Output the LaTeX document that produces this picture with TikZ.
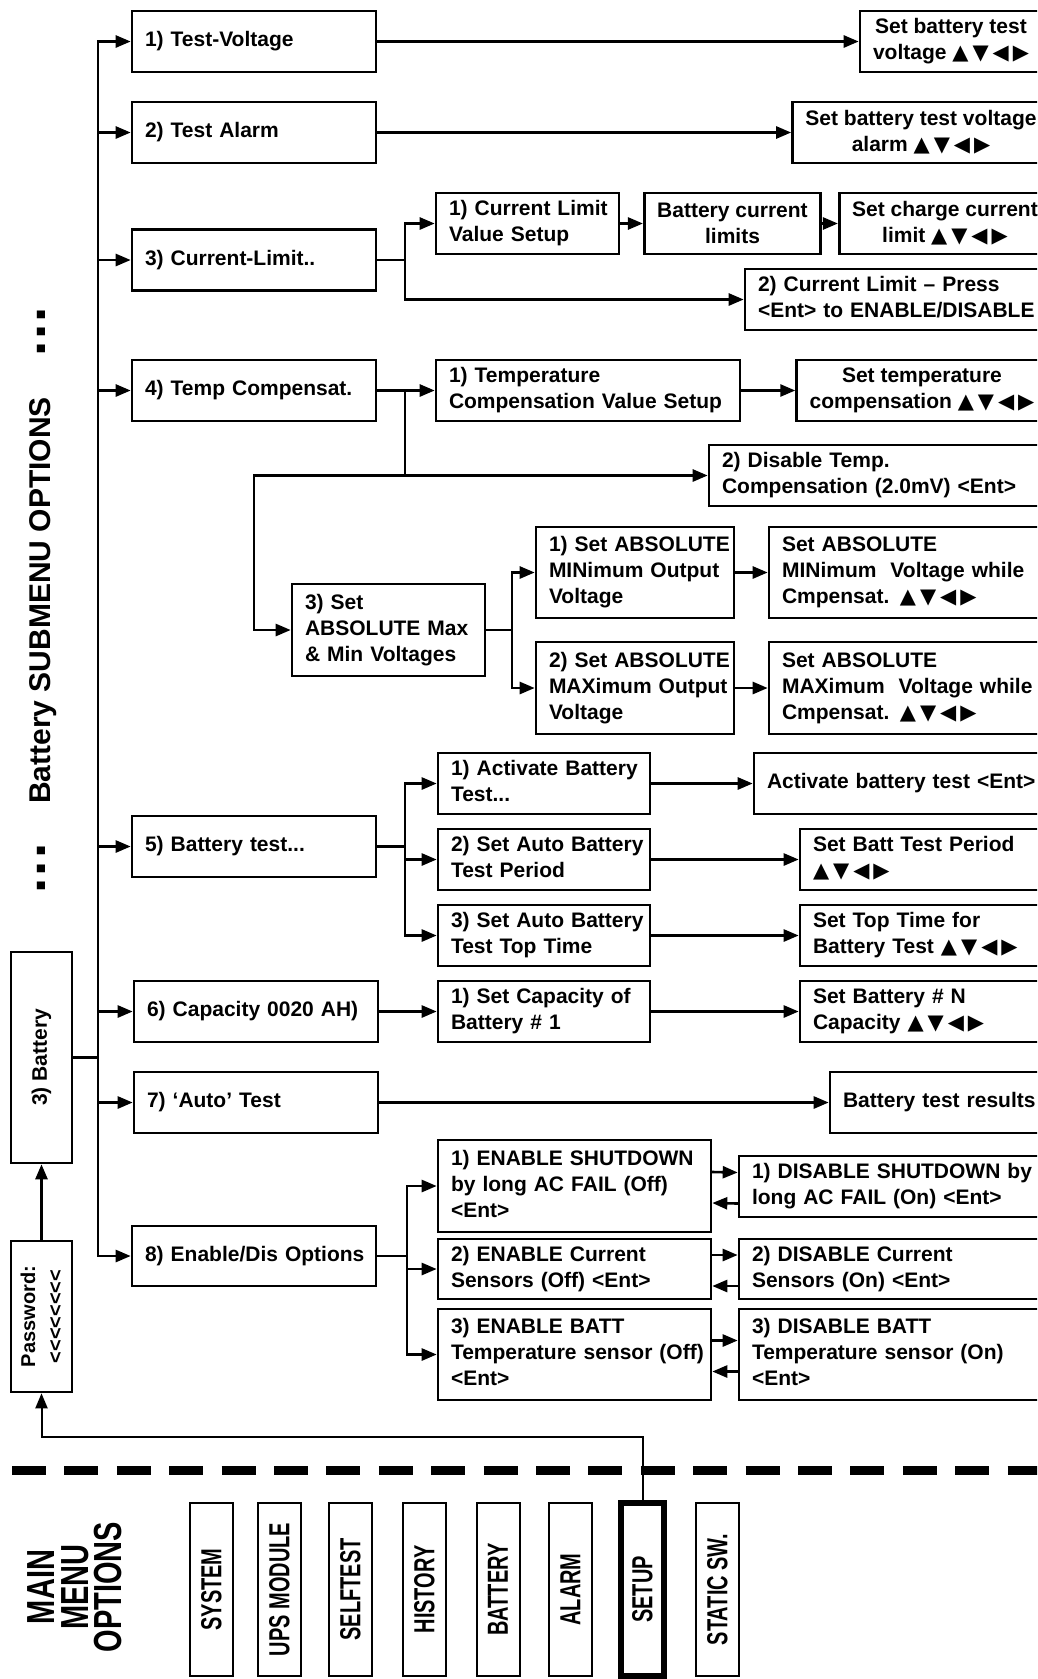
\documentclass[tikz,border=0pt]{standalone}
\usepackage{fontspec}
\setmainfont{Liberation Sans}
\newfontfamily\symfont{DejaVu Sans}
\usetikzlibrary{arrows.meta,positioning}
\newcommand{\mlines}[1]{\noindent\begin{tabular}{@{}l@{}}#1\end{tabular}}
\newcommand{\navkeys}{{\symfont ▲\kern4pt▼\kern4pt◀\kern4pt▶}}

\begin{document}
\begin{tikzpicture}[x=1pt, y=-1pt,
  box/.style={draw, line width=2.6pt, inner xsep=13pt, inner ysep=0pt, minimum height=61pt, font=\fontsize{21}{26}\selectfont\bfseries},
  lbox/.style={box, align=left, text width=#1},
  cbox/.style={box, align=center, minimum width=#1},
  upbox/.style={box, rotate=90, align=center},
  mainitem/.style={draw, line width=2pt, rotate=90, minimum width=173pt, minimum height=43pt, inner sep=0pt, font=\fontsize{20}{24}\selectfont\bfseries},
  vtext/.style={rotate=90, inner sep=0pt},
  link/.style={line width=2.6pt, line cap=rect},
  arr/.style={link, -{Triangle[length=15pt, width=12pt]}}
]
  \useasboundingbox (0,0) rectangle (1037,1679);
  \clip (0,0) rectangle (1037,1679);

  % submenu column
  \node[lbox=218pt] (tvolt)    at (254,41.5)   {\mlines{1) Test-Voltage}};
  \node[lbox=218pt] (talarm)   at (254,132.5)  {\mlines{2) Test Alarm}};
  \node[lbox=218pt] (climit)   at (254,260)    {\mlines{3) Current-Limit..}};
  \node[lbox=218pt] (tcomp)    at (254,390.5)  {\mlines{4) Temp Compensat.}};
  \node[lbox=218pt] (btest)    at (254,846.5)  {\mlines{5) Battery test...}};
  \node[lbox=218pt] (capac)    at (256,1011.5) {\mlines{6) Capacity 0020 AH)}};
  \node[lbox=218pt] (autotest) at (256,1102.5) {\mlines{7) ‘Auto’ Test}};
  \node[lbox=218pt, minimum height=60pt] (enopts) at (254,1256) {\mlines{8) Enable/Dis Options}};

  % settings
  \node[cbox=182pt] (tvoltset)  at (951,41.5)  {Set battery test\\voltage \navkeys};
  \node[cbox=242pt] (talarmset) at (921,132.5) {Set battery test voltage\\alarm \navkeys};
  \node[lbox=157pt] (clvalue)   at (527.5,223.5) {\mlines{1) Current Limit\\Value Setup}};
  \node[cbox=167pt] (clbatt)    at (732.5,223.5) {Battery current\\limits};
  \node[cbox=200pt] (clset)     at (945,223.5)   {Set charge current\\limit \navkeys};
  \node[lbox=284pt] (clpress)   at (900,299.5)   {\mlines{2) Current Limit – Press\\<Ent> to ENABLE/DISABLE}};
  \node[lbox=278pt] (tcvalue)   at (588,390.5)   {\mlines{1) Temperature\\Compensation Value Setup}};
  \node[cbox=244pt] (tcset)     at (922,390.5)   {Set temperature\\compensation \navkeys};
  \node[lbox=320pt] (tcdis)     at (882,475.5)   {\mlines{2) Disable Temp.\\Compensation (2.0mV) <Ent>}};
  \node[lbox=167pt, minimum height=92pt] (absmm)  at (388.5,630) {\mlines{3) Set\\ABSOLUTE Max\\\& Min Voltages}};
  \node[lbox=172pt, minimum height=91pt] (absmin) at (635,572.5) {\mlines{1) Set ABSOLUTE\\MINimum Output\\Voltage}};
  \node[lbox=172pt, minimum height=92pt] (absmax) at (635,688)   {\mlines{2) Set ABSOLUTE\\MAXimum Output\\Voltage}};
  \node[lbox=260pt, minimum height=91pt] (absminset) at (912,572.5) {\mlines{Set ABSOLUTE\\MINimum\ \ Voltage while\\Cmpensat. \navkeys}};
  \node[lbox=260pt, minimum height=92pt] (absmaxset) at (912,688)   {\mlines{Set ABSOLUTE\\MAXimum\ \ Voltage while\\Cmpensat. \navkeys}};
  \node[lbox=186pt] (actbt)      at (544,783.5)   {\mlines{1) Activate Battery\\Test...}};
  \node[lbox=275pt] (actbtset)   at (904.5,783.5) {\mlines{Activate battery test <Ent>}};
  \node[lbox=186pt] (autoper)    at (544,859.5)   {\mlines{2) Set Auto Battery\\Test Period}};
  \node[lbox=229pt] (autoperset) at (927.5,859.5) {\mlines{Set Batt Test Period\\\navkeys}};
  \node[lbox=186pt] (autotop)    at (544,935.5)   {\mlines{3) Set Auto Battery\\Test Top Time}};
  \node[lbox=229pt] (autotopset) at (927.5,935.5) {\mlines{Set Top Time for\\Battery Test \navkeys}};
  \node[lbox=186pt] (capset)     at (544,1011.5)   {\mlines{1) Set Capacity of\\Battery \# 1}};
  \node[lbox=229pt] (capsetn)    at (927.5,1011.5) {\mlines{Set Battery \# N\\Capacity \navkeys}};
  \node[lbox=199pt] (results)    at (942.5,1102.5) {\mlines{Battery test results}};
  \node[lbox=247pt, minimum height=92pt] (enshut)  at (574.5,1186) {\mlines{1) ENABLE SHUTDOWN\\by long AC FAIL (Off)\\<Ent>}};
  \node[lbox=290pt] (disshut)    at (897,1186.5)  {\mlines{1) DISABLE SHUTDOWN by\\long AC FAIL (On) <Ent>}};
  \node[lbox=247pt, minimum height=60pt] (encur)   at (574.5,1269)  {\mlines{2) ENABLE Current\\Sensors (Off) <Ent>}};
  \node[lbox=290pt, minimum height=60pt] (discur)  at (897,1269)    {\mlines{2) DISABLE Current\\Sensors (On) <Ent>}};
  \node[lbox=247pt, minimum height=91pt] (enbatt)  at (574.5,1354.5) {\mlines{3) ENABLE BATT\\Temperature sensor (Off)\\<Ent>}};
  \node[lbox=290pt, minimum height=91pt] (disbatt) at (897,1354.5)   {\mlines{3) DISABLE BATT\\Temperature sensor (On)\\<Ent>}};

  % left side
  \node[upbox, minimum width=211pt] (battery) at (41.5,1057.5) {3) Battery};
  \node[upbox, minimum width=151pt, font=\fontsize{20}{27}\selectfont\bfseries] (password) at (41.5,1316.5)
    {Password:\\<\kern0pt<\kern0pt<\kern0pt<\kern0pt<\kern0pt<\kern0pt<\kern0pt<};
  \node[vtext, anchor=base, font=\fontsize{30}{30}\selectfont\bfseries] (subtitle) at (50,600.5) {Battery SUBMENU OPTIONS};
  \node[vtext, anchor=base, font=\fontsize{55}{55}\selectfont\bfseries] (dotsup)   at (45.6,332)   {.\kern2pt.\kern2pt.};
  \node[vtext, anchor=base, font=\fontsize{55}{55}\selectfont\bfseries] (dotsdown) at (45.6,868.5) {.\kern2pt.\kern2pt.};

  % main menu
  \node[vtext, yscale=1.35, align=center, font=\fontsize{29}{24.8}\selectfont\bfseries] (mainmenu) at (75,1587) {MAIN\\MENU\\OPTIONS};
  \node[mainitem] (msystem) at (211.5,1589.5) {\scalebox{1}[1.45]{SYSTEM}};
  \node[mainitem] (mups)    at (279.5,1589.5) {\scalebox{1}[1.45]{UPS MODULE}};
  \node[mainitem] (mself)   at (350.5,1589.5) {\scalebox{1}[1.45]{SELFTEST}};
  \node[mainitem] (mhist)   at (424.5,1589.5) {\scalebox{1}[1.45]{HISTORY}};
  \node[mainitem] (mbatt)   at (498,1589.5)   {\scalebox{1}[1.45]{BATTERY}};
  \node[mainitem] (malarm)  at (570.5,1589.5) {\scalebox{1}[1.45]{ALARM}};
  \node[mainitem, line width=5.5pt] (msetup) at (642.5,1589.5) {\scalebox{1}[1.45]{SETUP}};
  \node[mainitem] (mstatic) at (717.5,1589.5) {\scalebox{1}[1.45]{STATIC SW.}};

  % trunk
  \coordinate (trunk) at (98,1057.5);
  \draw[link] (battery.south) -- (trunk);
  \draw[link] (trunk |- tvolt) -- (trunk |- enopts);
  \foreach \n in {tvolt,talarm,climit,tcomp,btest,capac,autotest,enopts}
    \draw[arr] (trunk |- \n) -- (\n);

  \draw[arr] (tvolt) -- (tvoltset);
  \draw[arr] (talarm) -- (talarmset);

  % current limit
  \coordinate (clfork) at (405,260);
  \draw[link] (climit) -- (clfork);
  \draw[arr] (clfork) |- (clvalue);
  \draw[arr] (clfork) |- (clpress);
  \draw[arr] (clvalue) -- (clbatt);
  \draw[arr] (clbatt) -- (clset);

  % temperature compensation
  \coordinate (tcfork) at (405,390.5);
  \coordinate (tcturn) at (254,475.5);
  \draw[arr] (tcomp) -- (tcvalue);
  \draw[arr] (tcvalue) -- (tcset);
  \draw[arr] (tcfork) |- (tcdis);
  \draw[arr] (tcfork |- tcdis) -- (tcturn) |- (absmm);
  \coordinate (mmfork) at (512,630);
  \draw[link] (absmm) -- (mmfork);
  \draw[arr] (mmfork) |- (absmin);
  \draw[arr] (mmfork) |- (absmax);
  \draw[arr] (absmin) -- (absminset);
  \draw[arr] (absmax) -- (absmaxset);

  % battery test
  \coordinate (btfork) at (405,846.5);
  \draw[link] (btest) -- (btfork);
  \foreach \n in {actbt,autoper,autotop}
    \draw[arr] (btfork) |- (\n);
  \draw[arr] (actbt) -- (actbtset);
  \draw[arr] (autoper) -- (autoperset);
  \draw[arr] (autotop) -- (autotopset);
  \draw[arr] (capac) -- (capset);
  \draw[arr] (capset) -- (capsetn);
  \draw[arr] (autotest) -- (results);

  % enable / disable
  \coordinate (enfork) at (407,1256);
  \draw[link] (enopts) -- (enfork);
  \foreach \n in {enshut,encur,enbatt}
    \draw[arr] (enfork) |- (\n);
  \foreach \a/\b in {enshut/disshut,encur/discur,enbatt/disbatt} {
    \draw[arr] ([yshift=14pt]\a.east) -- ([yshift=14pt]\b.west);
    \draw[arr] ([yshift=-17pt]\b.west) -- ([yshift=-17pt]\a.east);
  }

  % password and main menu link
  \draw[arr] (password.east) -- (battery.west);
  \coordinate (pwlink) at (41.5,1437);
  \draw[arr, line width=2pt] (msetup.east) |- (pwlink) -- (password.west);
  \draw[line width=9pt, dash pattern=on 34pt off 18.4pt] (12,1470) -- (1045,1470);
\end{tikzpicture}
\end{document}
